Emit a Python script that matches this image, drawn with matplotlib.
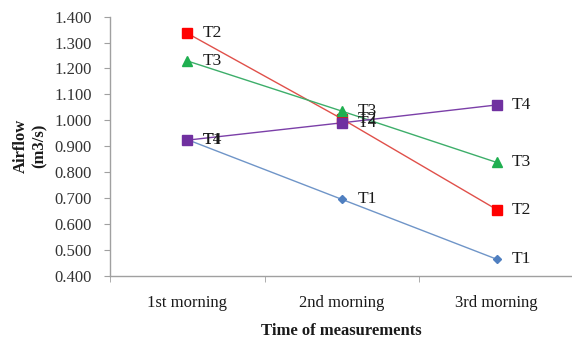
import matplotlib
matplotlib.use("Agg")
import matplotlib.pyplot as plt
from matplotlib.ticker import FixedLocator, FormatStrFormatter

categories = ["1st morning", "2nd morning", "3rd morning"]
series_names = ["T1", "T2", "T3", "T4"]
t1 = [0.925, 0.694, 0.463]
t2 = [1.336, 1.005, 0.655]
t3 = [1.229, 1.035, 0.837]
t4 = [0.923, 0.990, 1.059]

values = [t1, t2, t3, t4]
line_colors = ["#6F95C8", "#E0504A", "#3DAE6A", "#7B3FA8"]
marker_colors = ["#4F7FC0", "#FF0000", "#1FAF50", "#7030A0"]
markers = ["D", "s", "^", "s"]
msizes = [4.5, 6.5, 6.5, 6.5]
order = [0, 1, 2, 3]

plt.rcParams["font.family"] = ["Liberation Serif", "DejaVu Serif"]

fig = plt.figure(figsize=(5.72, 3.42), dpi=100)
ax = fig.add_axes([110 / 572, 1 - 275.5 / 342, (572 - 110) / 572, (275.5 - 16.7) / 342])

x = list(range(len(categories)))
for i in order:
    ax.plot(x, values[i], color=line_colors[i], lw=1.0, zorder=2 + i)
    ax.plot(x, values[i], linestyle="none", marker=markers[i], ms=msizes[i],
            color=marker_colors[i], mec=marker_colors[i], zorder=6 + i)
    for xi, v in zip(x, values[i]):
        ax.annotate(series_names[i], (xi, v), xytext=(11, 0), textcoords="offset points",
                    va="center", ha="left", fontsize=12.5, color="#1a1a1a", zorder=12)

ax.set_ylim(0.4, 1.4)
ax.set_xlim(-0.5, 2.487)
ax.yaxis.set_major_locator(FixedLocator([0.4 + 0.1 * k for k in range(11)]))
ax.yaxis.set_major_formatter(FormatStrFormatter("%.3f"))
ax.set_xticks(x)
ax.set_xticklabels(categories)
ax.xaxis.set_minor_locator(FixedLocator([-0.5, 0.5, 1.5, 2.5]))
ax.tick_params(axis="x", which="major", length=0, pad=14, labelsize=12, labelcolor="#1a1a1a")
ax.tick_params(axis="x", which="minor", length=4, color="#A0A0A0", direction="out")
ax.tick_params(axis="y", which="major", length=4, color="#A0A0A0", direction="out",
               labelsize=12, pad=9, labelcolor="#333333")

for s in ["top", "right"]:
    ax.spines[s].set_visible(False)
for s in ["left", "bottom"]:
    ax.spines[s].set_color("#A0A0A0")
    ax.spines[s].set_linewidth(1.0)

ax.set_xlabel("Time of measurements", fontsize=12, fontweight="bold", labelpad=9, color="#1a1a1a")
ax.set_ylabel("Airflow\n(m3/s)", fontsize=12, fontweight="bold", labelpad=5, color="#1a1a1a")

fig.savefig("out.png", dpi=100)
